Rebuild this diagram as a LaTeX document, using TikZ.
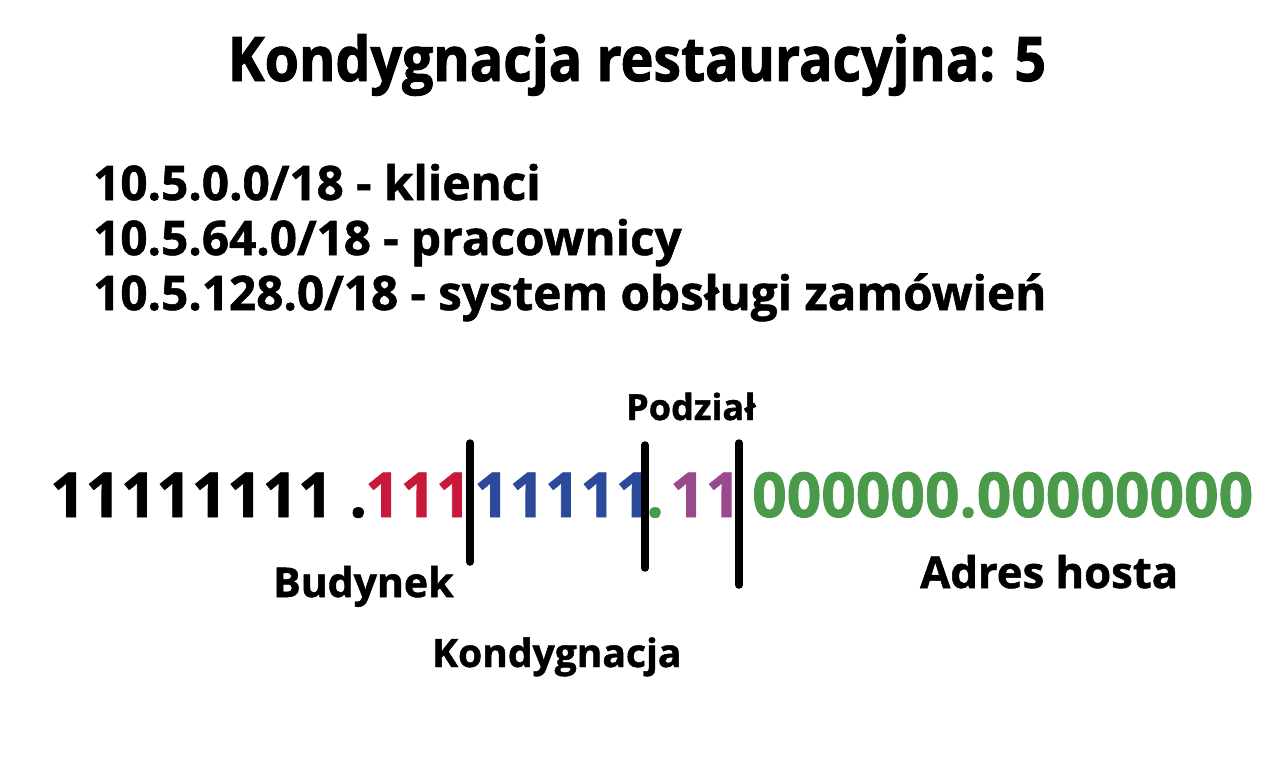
\documentclass[tikz,border=0pt]{standalone}
\usepackage{fontspec}
\setmainfont{Open Sans}[BoldFeatures={FakeBold=1.2}]
\newfontfamily\narrowfont{Open Sans}[FakeStretch=0.9, BoldFeatures={FakeBold=1.6}]
\newfontfamily\hostfont{Open Sans}[FakeStretch=0.976, BoldFeatures={FakeBold=1.2}]

\definecolor{budred}{HTML}{C8193A}
\definecolor{kondblue}{HTML}{2B4A9B}
\definecolor{podpurple}{HTML}{9A4A8C}
\definecolor{hostgreen}{HTML}{4A9A4A}

\tikzset{
  bits/.style={inner sep=0pt, anchor=base west, font=\fontsize{62}{62}\selectfont\bfseries},
  lbl/.style={inner sep=0pt, anchor=base west, font=\fontsize{#1}{#1}\selectfont\bfseries},
  lbl/.default=36,
  net/.style={inner sep=0pt, anchor=base west, font=\fontsize{47.6}{47.6}\selectfont\bfseries},
  sepline/.style={line width=7.5pt, line cap=round}
}

\begin{document}
\begin{tikzpicture}[x=1pt, y=-1pt]
  \useasboundingbox (0,0) rectangle (1280,771);
  % title
  \node[inner sep=0pt, anchor=base, font=\fontsize{61.6}{61.6}\narrowfont\bfseries]
    (title) at (637,81) {Kondygnacja restauracyjna: 5};
  % subnets
  \node[net] (klienci) at (93,200) {10.5.0.0/18 - klienci};
  \node[net] (pracownicy) at (93,255) {10.5.64.0/18 - pracownicy};
  \node[net] (system) at (93,310) {10.5.128.0/18 - system obsługi zamówień};
  % mask bits
  \node[bits] (siec) at (50,517) {11111111 .};
  \node[bits, text=budred] (budbits) at (365,517) {111};
  \node[bits, text=kondblue] (kondbits) at (474,517) {11111};
  \node[bits, text=hostgreen] (dot) at (646,517) {.};
  \node[bits, text=podpurple] (podbits) at (670,517) {11};
  \node[bits, text=hostgreen, font=\fontsize{62}{62}\hostfont\bfseries] (hostbits) at (752,517) {000000.00000000};
  % separators
  \draw[sepline] (470,443) -- (470,562);
  \draw[sepline] (645,445) -- (645,568);
  \draw[sepline] (739,443) -- (739,585);
  % labels
  \node[lbl] (podzial) at (626,420) {Podział};
  \node[lbl=41] (budynek) at (273,597) {Budynek};
  \node[lbl=39] (kondygnacja) at (432,667) {Kondygnacja};
  \node[lbl=43.6] (host) at (920,588) {Adres hosta};
\end{tikzpicture}
\end{document}
